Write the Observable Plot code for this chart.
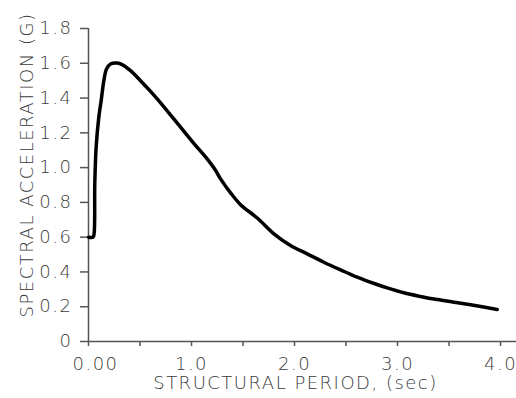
<!DOCTYPE html>
<html><head><meta charset="utf-8">
<script src="https://cdn.jsdelivr.net/npm/d3@7"></script>
<script src="https://cdn.jsdelivr.net/npm/@observablehq/plot@0.6"></script>
<style>body{margin:0;background:#fff}</style>
</head><body><div id="chart"></div>
<script>
const periods = [0, 0.042, 0.052, 0.061, 0.074, 0.1, 0.123, 0.149, 0.175, 0.214, 0.278, 0.327, 0.408, 0.505, 0.6, 0.667, 0.828, 0.925, 1.022, 1.152, 1.233, 1.282, 1.379, 1.476, 1.638, 1.8, 1.961, 2.123, 2.285, 2.447, 2.608, 2.78, 2.9, 3.061, 3.223, 3.385, 3.547, 3.709, 3.968];
const accel   = [0.6, 0.6, 0.61, 0.906, 1.117, 1.29, 1.385, 1.5, 1.567, 1.596, 1.601, 1.592, 1.558, 1.5, 1.44, 1.395, 1.28, 1.21, 1.14, 1.05, 0.985, 0.935, 0.855, 0.787, 0.71, 0.619, 0.552, 0.504, 0.456, 0.412, 0.37, 0.332, 0.308, 0.28, 0.259, 0.241, 0.226, 0.211, 0.184];
const yTicks = [0, 0.2, 0.4, 0.6, 0.8, 1.0, 1.2, 1.4, 1.6, 1.8];
const yTickLabels = ["0", "0.2", "0.4", "0.6", "0.8", "1.0", "1.2", "1.4", "1.6", "1.8"];
const xTicks = [1, 2, 3, 4];
const xTickLabels = ["1.0", "2.0", "3.0", "4.0"];
const xZeroTick = [0];
const xZeroLabel = "0.00";
const xMinorTicks = [0, 0.5, 1.5, 2.5, 3.5];
const xTitle = "STRUCTURAL PERIOD, (sec)";
const yTitle = "SPECTRAL ACCELERATION (G)";

const data = periods.map((p, i) => ({period: p, accel: accel[i]}));
const ink = "#3a3a3a";
const axisInk = "#555";

const chart = Plot.plot({
  width: 516, height: 398,
  marginLeft: 88, marginRight: 0, marginTop: 28, marginBottom: 57,
  style: {fontFamily: "'DejaVu Sans', sans-serif", fontSize: "18px", fontWeight: 300, color: ink, background: "#fff", letterSpacing: "1.5px"},
  x: {domain: [0, 4.155]},
  y: {domain: [0, 1.8]},
  marks: [
    Plot.ruleX([0], {stroke: axisInk, strokeWidth: 1.5}),
    Plot.ruleY([0], {stroke: axisInk, strokeWidth: 1.5}),
    Plot.axisY({ticks: yTicks, tickFormat: d => yTickLabels[yTicks.indexOf(d)], tickSize: 8, tickPadding: 8, label: null, stroke: axisInk, strokeWidth: 1.5, fill: ink}),
    Plot.axisX({ticks: xTicks, tickFormat: d => xTickLabels[xTicks.indexOf(d)], tickSize: 5, tickPadding: 11, label: null, stroke: axisInk, strokeWidth: 1.5, fill: ink}),
    Plot.axisX({ticks: xMinorTicks, tickSize: 5, fill: "none", stroke: axisInk, strokeWidth: 1.5}),
    Plot.axisX({ticks: xZeroTick, tickFormat: () => xZeroLabel, tickSize: 0, tickPadding: 16, dx: 7, label: null, fill: ink}),
    Plot.line(data, {x: "period", y: "accel", stroke: "#000", strokeWidth: 3.5, curve: "catmull-rom", strokeLinejoin: "round"}),
    Plot.text([yTitle], {frameAnchor: "left", textAnchor: "middle", lineAnchor: "middle", rotate: -90, dx: -61, dy: -20, fill: ink}),
    Plot.text([xTitle], {frameAnchor: "bottom", textAnchor: "middle", lineAnchor: "middle", dx: -7, dy: 42, fill: ink})
  ]
});
document.getElementById("chart").append(chart);
</script>
</body></html>
